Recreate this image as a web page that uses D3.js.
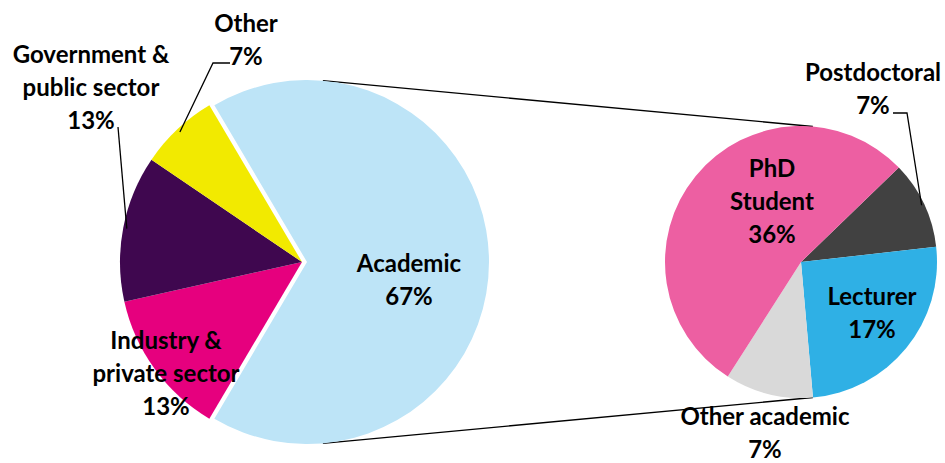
<!DOCTYPE html>
<html>
<head>
<meta charset="utf-8" />
<title>Career destinations</title>
<style>
    body { margin: 0; background: #fff; }
    text { font-family: Lato, "Open Sans", sans-serif; font-weight: bold; fill: #000; }
</style>
</head>
<body>
<div id="container"></div>
<script src="https://cdn.jsdelivr.net/npm/d3@7"></script>
<script>
    // main pie (share of everyone)
    const mainLabels = ['Academic', 'Industry & private sector', 'Government & public sector', 'Other']
    const mainValues = [67, 13, 13, 7]
    const mainColors = ['#bde4f7', '#e6007e', '#3f074f', '#f2ea00']

    // breakdown of the academic slice
    const subLabels = ['Postdoctoral', 'Lecturer', 'Other academic', 'PhD Student']
    const subValues = [7, 17, 7, 36]
    const subColors = ['#414141', '#2fb0e5', '#d9d9d9', '#ed5fa2']

    // how each label is broken into lines
    const mainLines = [['Academic', '67%'], ['Industry &', 'private sector', '13%'], ['Government &', 'public sector', '13%'], ['Other', '7%']]
    const subLines = [['Postdoctoral', '7%'], ['Lecturer', '17%'], ['Other academic', '7%'], ['PhD', 'Student', '36%']]

    const width = 945
    const height = 463
    const deg = Math.PI / 180

    const svg = d3.select('#container').append('svg').attr('width', width).attr('height', height)

    const main = { cx: 302, cy: 262, r: 182, explode: 5 }
    const sub = { cx: 801, cy: 262, r: 136 }

    const mainPie = d3.pie().sort(null).startAngle(-30.6 * deg).endAngle(329.4 * deg)
    const subPie = d3.pie().sort(null).startAngle(46 * deg).endAngle(406 * deg)

    const mainArcs = mainPie(mainValues)
    const subArcs = subPie(subValues)

    const arcMain = d3.arc().innerRadius(0).outerRadius(main.r)
    const arcSub = d3.arc().innerRadius(0).outerRadius(sub.r)

    const polar = (c, r, a) => [c.cx + r * Math.sin(a), c.cy - r * Math.cos(a)]

    // connector lines from the academic slice to the second pie
    const acad = mainArcs[0]
    const acadMid = (acad.startAngle + acad.endAngle) / 2
    const acadCenter = { cx: main.cx + main.explode * Math.sin(acadMid), cy: main.cy - main.explode * Math.cos(acadMid) }
    const connAngles = [5 * deg, 175 * deg]
    svg.append('g').selectAll('line').data(connAngles).join('line')
        .attr('x1', a => polar(acadCenter, main.r, a)[0])
        .attr('y1', a => polar(acadCenter, main.r, a)[1])
        .attr('x2', a => polar(sub, sub.r, a)[0])
        .attr('y2', a => polar(sub, sub.r, a)[1])
        .attr('stroke', '#000').attr('stroke-width', 1.3)

    const gMain = svg.append('g').attr('transform', `translate(${main.cx},${main.cy})`)
    gMain.selectAll('path').data(mainArcs).join('path')
        .attr('d', arcMain)
        .attr('fill', (d, i) => mainColors[i])
        .attr('transform', (d, i) => {
            if (i !== 0) return null
            const m = (d.startAngle + d.endAngle) / 2
            return `translate(${main.explode * Math.sin(m)},${-main.explode * Math.cos(m)})`
        })

    const gSub = svg.append('g').attr('transform', `translate(${sub.cx},${sub.cy})`)
    gSub.selectAll('path').data(subArcs).join('path')
        .attr('d', arcSub)
        .attr('fill', (d, i) => subColors[i])

    // label anchors (centre of the text block)
    const mainPos = [[409, 280], [166, 374], [91, 88], [246, 40]]
    const subPos = [[873, 89], [872, 313], [765, 433], [772, 202]]
    const lineH = 33

    function drawLabel(lines, pos) {
        const t = svg.append('text').attr('text-anchor', 'middle').style('font-size', '24px')
        const y0 = pos[1] - (lines.length - 1) * lineH / 2
        lines.forEach((s, k) => {
            t.append('tspan').attr('x', pos[0]).attr('y', y0 + k * lineH).attr('dy', '0.35em').text(s)
        })
    }
    mainLines.forEach((l, i) => drawLabel(l, mainPos[i]))
    subLines.forEach((l, i) => drawLabel(l, subPos[i]))

    // leader lines for the outside labels
    const mid = d => (d.startAngle + d.endAngle) / 2
    const leaders = [
        [[230, 63], [213, 63], polar(main, main.r * 0.98, mid(mainArcs[3]))],
        [[118, 127], polar(main, main.r * 0.98, mid(mainArcs[2]))],
        [[893, 113], [907, 113], polar(sub, sub.r * 0.98, mid(subArcs[0]))]
    ]
    svg.append('g').selectAll('path').data(leaders).join('path')
        .attr('d', d3.line())
        .attr('fill', 'none').attr('stroke', '#000').attr('stroke-width', 1.3)
</script>
</body>
</html>
